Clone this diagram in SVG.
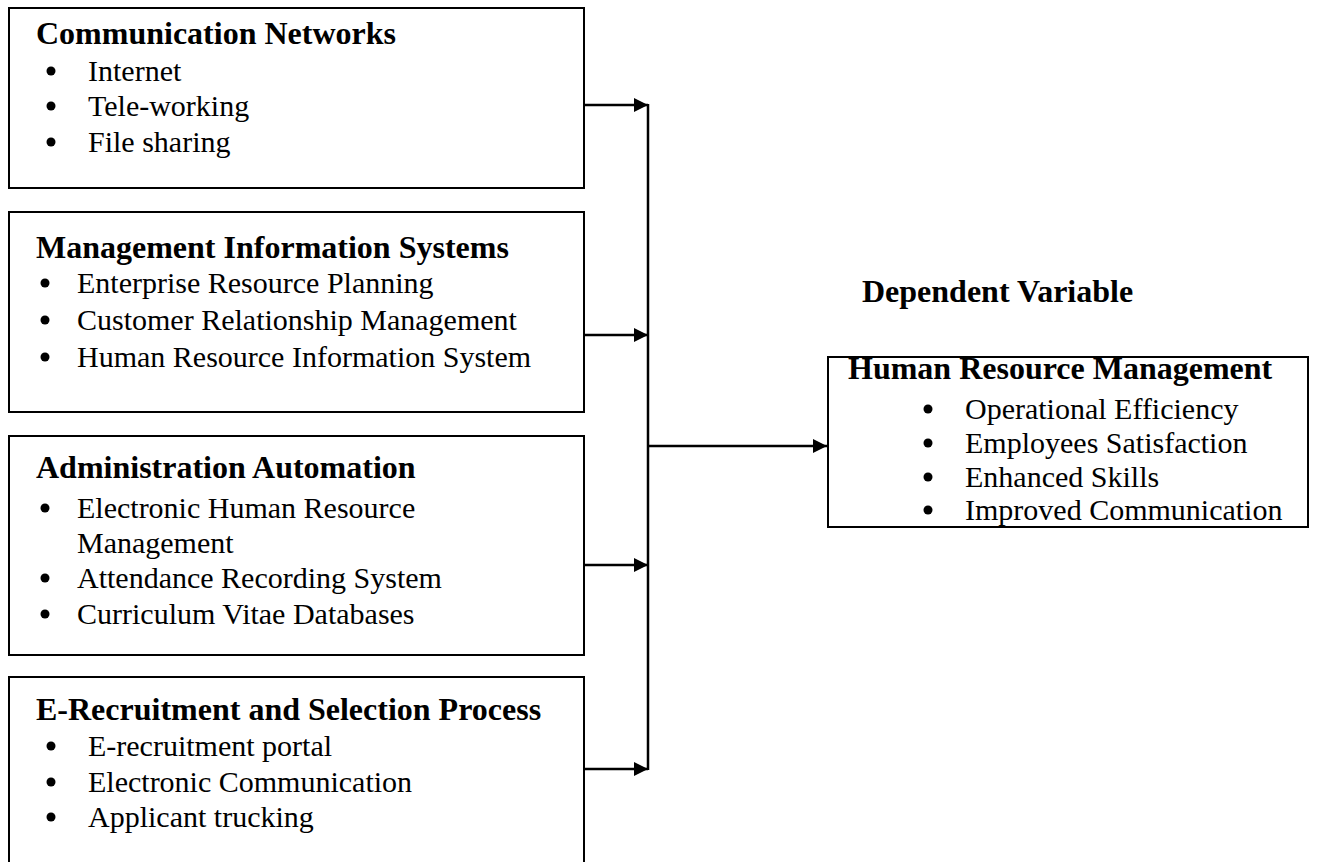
<svg xmlns="http://www.w3.org/2000/svg" width="1323" height="862" viewBox="0 0 1323 862">
<defs>
<marker id="ah" viewBox="0 0 10 10" refX="10" refY="5" markerWidth="16" markerHeight="14" markerUnits="userSpaceOnUse" orient="auto"><path d="M0,0 L10,5 L0,10 z" fill="#000"/></marker>
</defs>
<style>
.box{fill:#fff;stroke:#000;stroke-width:2}
.t{font-family:"Liberation Serif","Times New Roman",serif;font-size:30px;fill:#000}
.b{font-weight:bold;font-size:32px}
.dot{fill:#000}
.c{stroke:#000;stroke-width:2.5;fill:none}
</style>
<rect width="1323" height="862" fill="#fff"/>
<g id="n1">
<rect class="box" x="9" y="8" width="575" height="180"/>
<text class="t b" x="36" y="44">Communication Networks</text>
<circle class="dot" cx="51" cy="71" r="4.5"/><text class="t" x="88" y="81">Internet</text>
<circle class="dot" cx="51" cy="106" r="4.5"/><text class="t" x="88" y="116">Tele-working</text>
<circle class="dot" cx="51" cy="142" r="4.5"/><text class="t" x="88" y="152">File sharing</text>
</g>
<g id="n2">
<rect class="box" x="9" y="212" width="575" height="200"/>
<text class="t b" x="36" y="258">Management Information Systems</text>
<circle class="dot" cx="45" cy="283" r="4.5"/><text class="t" x="77" y="293">Enterprise Resource Planning</text>
<circle class="dot" cx="45" cy="320" r="4.5"/><text class="t" x="77" y="330">Customer Relationship Management</text>
<circle class="dot" cx="45" cy="357" r="4.5"/><text class="t" x="77" y="367">Human Resource Information System</text>
</g>
<g id="n3">
<rect class="box" x="9" y="436" width="575" height="219"/>
<text class="t b" x="36" y="478">Administration Automation</text>
<circle class="dot" cx="45" cy="508" r="4.5"/><text class="t" x="77" y="518">Electronic Human Resource</text>
<text class="t" x="77" y="553">Management</text>
<circle class="dot" cx="45" cy="578" r="4.5"/><text class="t" x="77" y="588">Attendance Recording System</text>
<circle class="dot" cx="45" cy="614" r="4.5"/><text class="t" x="77" y="624">Curriculum Vitae Databases</text>
</g>
<g id="n4">
<rect class="box" x="9" y="677" width="575" height="200"/>
<text class="t b" x="36" y="720">E-Recruitment and Selection Process</text>
<circle class="dot" cx="51" cy="746" r="4.5"/><text class="t" x="88" y="756">E-recruitment portal</text>
<circle class="dot" cx="51" cy="782" r="4.5"/><text class="t" x="88" y="792">Electronic Communication</text>
<circle class="dot" cx="51" cy="817" r="4.5"/><text class="t" x="88" y="827">Applicant trucking</text>
</g>
<text id="dv" class="t b" x="862" y="302">Dependent Variable</text>
<g id="n5">
<rect class="box" x="828" y="357" width="480" height="170"/>
<text class="t b" x="848" y="379">Human Resource Management</text>
<circle class="dot" cx="928" cy="409" r="4.5"/><text class="t" x="965" y="419">Operational Efficiency</text>
<circle class="dot" cx="928" cy="443" r="4.5"/><text class="t" x="965" y="453">Employees Satisfaction</text>
<circle class="dot" cx="928" cy="477" r="4.5"/><text class="t" x="965" y="487">Enhanced Skills</text>
<circle class="dot" cx="928" cy="510" r="4.5"/><text class="t" x="965" y="520">Improved Communication</text>
</g>
<g id="connectors">
<line class="c" x1="648" y1="104" x2="648" y2="770"/>
<line class="c" x1="584" y1="105" x2="648" y2="105" marker-end="url(#ah)"/>
<line class="c" x1="584" y1="335" x2="648" y2="335" marker-end="url(#ah)"/>
<line class="c" x1="584" y1="565" x2="648" y2="565" marker-end="url(#ah)"/>
<line class="c" x1="584" y1="769" x2="648" y2="769" marker-end="url(#ah)"/>
<line class="c" x1="648" y1="446" x2="827" y2="446" marker-end="url(#ah)"/>
</g>
</svg>
